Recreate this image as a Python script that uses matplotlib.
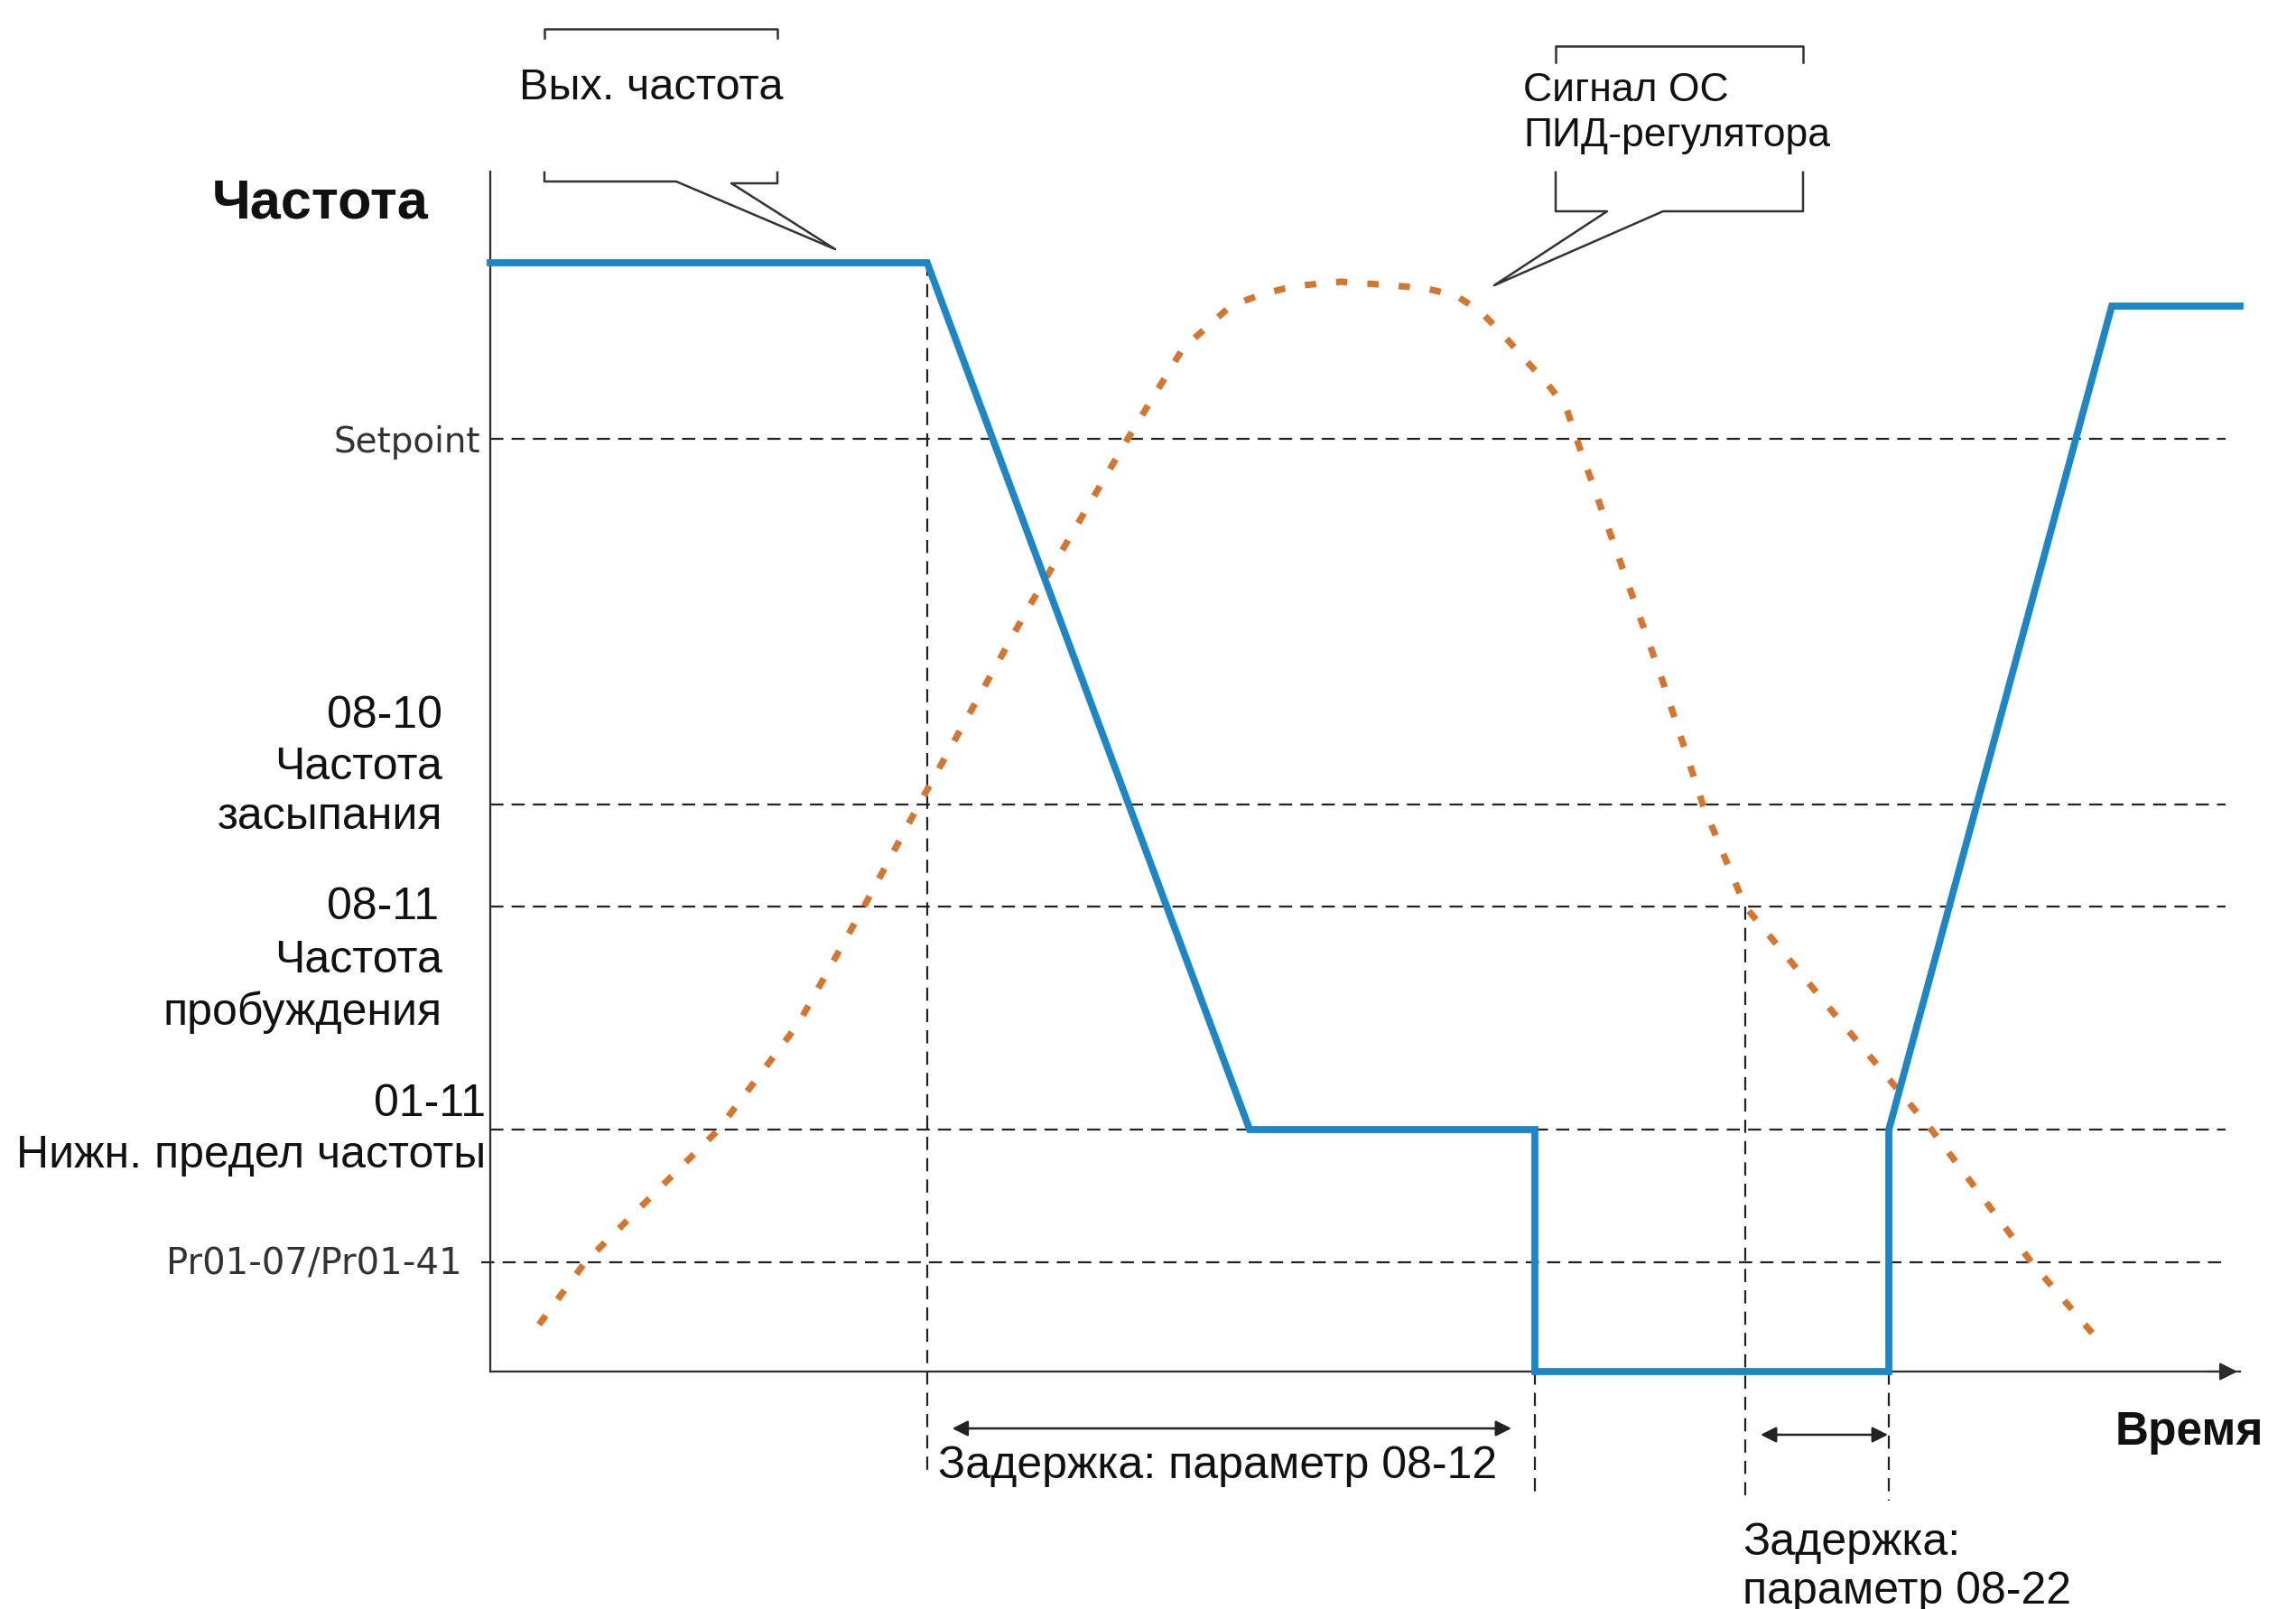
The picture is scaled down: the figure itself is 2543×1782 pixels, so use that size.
import matplotlib
matplotlib.use('Agg')
import matplotlib.pyplot as plt

plt.rcParams['lines.scale_dashes'] = False
plt.rcParams['font.family'] = ['Liberation Sans', 'DejaVu Sans']

W, H = 2543, 1783
DPI = 100

# ---------------- data (time units / frequency units) ----------------
# output frequency (blue)
out_t = [0, 24.97, 43.4, 59.7, 59.7, 79.93, 79.93, 92.67, 100]
out_f = [61.4, 61.4, 13.4, 13.4, 0, 0, 13.4, 59.0, 59.0]

# PID feedback signal (orange dotted)
pid_t = [2.79, 5.42, 13.0, 17.6, 21.36, 24.5, 30.55, 36.43, 39.58, 42.31, 44.07,
         45.92, 48.6, 51.44, 53.35, 55.16, 56.6, 57.9, 59.08, 60.37, 61.5,
         62.1, 64.45, 66.98, 69.3, 71.72, 76.99, 82.4, 88.08, 92.2]
pid_f = [2.6, 6.05, 13.35, 19.25, 25.75, 31.4, 41.95, 51.65, 56.65, 59.0, 59.65,
         60.1, 60.35, 60.15, 60.0, 59.6, 58.7, 57.4, 56.1, 54.75, 53.35,
         51.6, 45.2, 38.3, 31.4, 25.75, 19.6, 13.35, 6.05, 1.4]

# reference levels
level_names = ['Setpoint', '08-10', '08-11', '01-11', 'Pr01-07/Pr01-41']
level_values = [51.65, 31.4, 25.75, 13.4, 6.05]

# event times (vertical markers) and their top / bottom extents
event_t = [24.97, 59.7, 71.72, 79.93]
event_top = [61.4, 0, 25.75, 0]
event_bottom = [-5.65, -6.65, -7.15, -7.15]

# delay spans
delay1 = (26.4, 58.36, -3.15)
delay2 = (72.6, 79.88, -3.5)

# ---------------- figure ----------------
fig = plt.figure(figsize=(W / DPI, H / DPI), dpi=DPI)
fig.patch.set_facecolor('white')

# overlay axes in pixel coordinates for annotations
ov = fig.add_axes([0, 0, 1, 1])
ov.set_xlim(0, W)
ov.set_ylim(H, 0)
ov.axis('off')

X0, X1, Y0, Y1 = 543, 2481, 1520, 191
ax = fig.add_axes([X0 / W, (H - Y0) / H, (X1 - X0) / W, (Y0 - Y1) / H])
ax.set_xlim(0, 100)
ax.set_ylim(0, (Y0 - Y1) / 20.0)
ax.patch.set_alpha(0)
for s in ['top', 'right']:
    ax.spines[s].set_visible(False)
for s in ['left', 'bottom']:
    ax.spines[s].set_color('#2b2b2b')
    ax.spines[s].set_linewidth(1.6)
ax.set_xticks([])
ax.set_yticks([])

DARK = '#222222'
BLUE = '#1c86c6'
ORANGE = '#d4762f'

# horizontal reference lines
for v in level_values:
    ax.plot([-0.5 if v < 10 else 0, 99.2], [v, v], color=DARK, lw=1.6,
            dashes=(10.5, 6.5), clip_on=False, zorder=2)

# vertical event lines
for t, top, bot in zip(event_t, event_top, event_bottom):
    ax.plot([t, t], [top, bot], color=DARK, lw=1.6, dashes=(10.5, 6.5),
            clip_on=False, zorder=2)

# PID feedback curve
ax.plot(pid_t, pid_f, color=ORANGE, lw=5.2, dashes=(9.0, 16.0),
        solid_capstyle='butt', dash_capstyle='butt', clip_on=False, zorder=3)

# output frequency
ax.plot(out_t, out_f, color=BLUE, lw=5.6, solid_joinstyle='miter',
        clip_on=False, zorder=4)

# x-axis arrow head
ax.annotate('', xy=(100, 0), xytext=(98, 0),
            arrowprops=dict(arrowstyle='-|>', color='#2b2b2b', lw=1.6,
                            mutation_scale=30), annotation_clip=False)

# delay arrows
for a, b, y in [delay1, delay2]:
    ax.annotate('', xy=(b, y), xytext=(a, y),
                arrowprops=dict(arrowstyle='<|-|>', color=DARK, lw=1.8,
                                mutation_scale=26, shrinkA=0, shrinkB=0),
                annotation_clip=False)

# ---------------- texts ----------------
FS = 36
ov.text(235, 242, 'Частота', fontsize=44, fontweight='bold', ha='left',
        va='baseline', color='#111')
ov.text(2343, 1600, 'Время', fontsize=37, fontweight='bold', ha='left',
        va='baseline', color='#111')

ov.text(532, 501, level_names[0], fontsize=28, ha='right', va='baseline',
        color='#333', family='DejaVu Sans')
ov.text(512, 1412, level_names[4], fontsize=29, ha='right', va='baseline',
        color='#333', family='DejaVu Sans')

left_labels = [
    (490, 806, level_names[1]), (490, 863, 'Частота'), (490, 918, 'засыпания'),
    (486, 1018, level_names[2]), (490, 1077, 'Частота'), (490, 1135, 'пробуждения'),
    (538, 1236, level_names[3]), (538, 1293, 'Нижн. предел частоты'),
]
for x, y, s in left_labels:
    ov.text(x, y, s, fontsize=FS, ha='right', va='baseline', color='#111')

ov.text(1039, 1637, 'Задержка: параметр 08-12', fontsize=FS, ha='left',
        va='baseline', color='#111')
ov.text(1930, 1722, 'Задержка:', fontsize=FS, ha='left', va='baseline', color='#111')
ov.text(1930, 1776, 'параметр 08-22', fontsize=FS, ha='left', va='baseline', color='#111')

# callout 1 : output frequency
ov.text(575, 110, 'Вых. частота', fontsize=35, ha='left', va='baseline', color='#111')
LC = '#333333'
LW = 1.8
ov.plot([603, 603, 861, 861], [43, 33, 33, 43], color=LC, lw=LW)
ov.plot([603, 603, 749, 925, 810, 861, 861], [192, 202, 202, 277, 204, 204, 192],
        color=LC, lw=LW)

# callout 2 : PID feedback
ov.text(1687, 112, 'Сигнал ОС', fontsize=32, ha='left', va='baseline', color='#111')
ov.text(1687, 162, 'ПИД-регулятора', fontsize=32, ha='left', va='baseline', color='#111')
ov.plot([1723, 1723, 1997, 1997], [70, 52, 52, 70], color=LC, lw=LW)
ov.plot([1723, 1723, 1780, 1655, 1842, 1997, 1997], [192, 235, 235, 317, 235, 235, 192],
        color=LC, lw=LW)

fig.savefig('out.png', dpi=DPI, facecolor='white')
